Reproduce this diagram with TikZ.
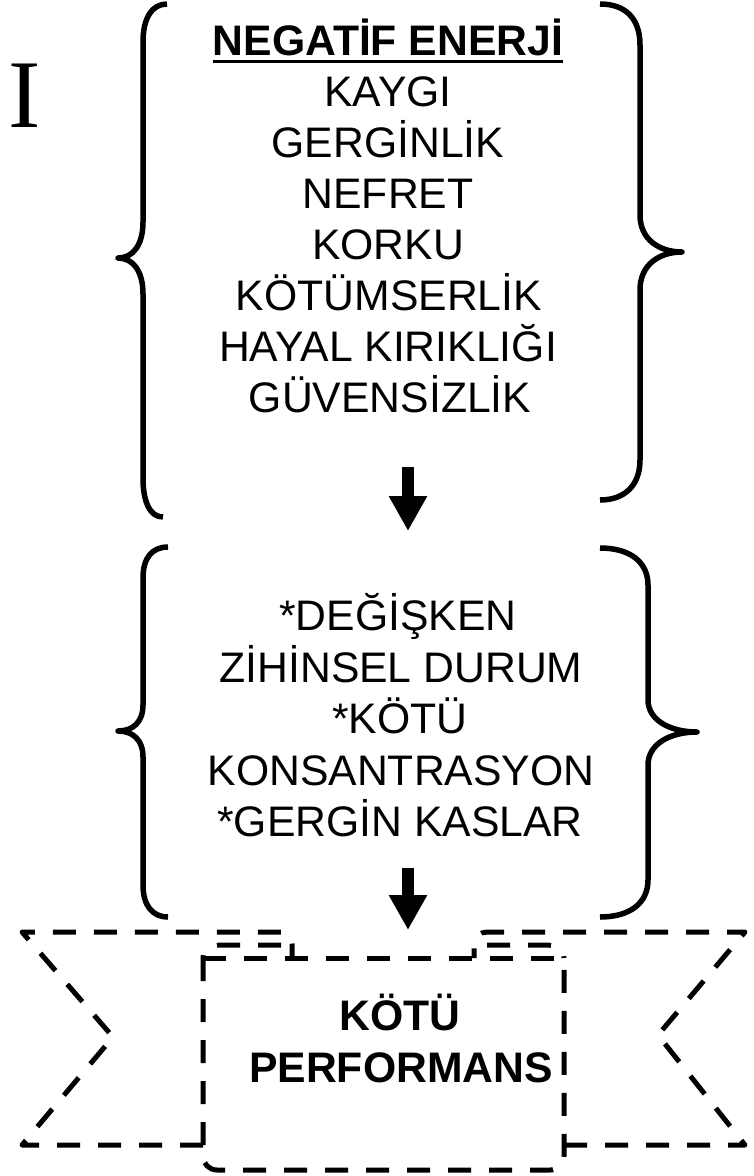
\documentclass[tikz,border=0pt]{standalone}
\usepackage{fontspec}
\setmainfont{Liberation Sans}
\newfontfamily\serifI{Liberation Serif}
\usetikzlibrary{arrows.meta}
\begin{document}
\begin{tikzpicture}[x=1pt,y=-1pt,
  txt/.style={font=\fontsize{42.7}{50}\selectfont, inner sep=0pt, anchor=base},
  btxt/.style={font=\fontsize{42.7}{50}\selectfont\bfseries, inner sep=0pt, anchor=base},
  brace/.style={line width=5.5pt, line cap=butt, line join=round},
  rib/.style={line width=5pt, dash pattern=on 23pt off 18pt, line cap=butt, line join=round},
  blockarrow/.style={line width=12pt, -{Triangle[width=36pt,length=35pt]}}]
\useasboundingbox (0,0) rectangle (753,1176);

% title fragment
\node[anchor=base west, inner sep=0pt, font=\serifI\fontsize{97}{97}\selectfont] (ttl) at (8,127) {I};

% top braces
\draw[brace] (167,4) .. controls (152,4) and (143,18) .. (143,42) -- (143,222)
  .. controls (143,245) and (133,258) .. (118,258)
  .. controls (133,258) and (143,271) .. (143,294) -- (143,478)
  .. controls (143,502) and (150,517) .. (163,517);
\draw[brace] (600,4) .. controls (625,4) and (640,18) .. (640,45) -- (640,215)
  .. controls (640,240) and (660,252) .. (682,252)
  .. controls (660,252) and (640,264) .. (640,290) -- (640,460)
  .. controls (640,485) and (625,500) .. (600,500);

% middle braces
\draw[brace] (168,547) .. controls (152,547) and (143,558) .. (143,578) -- (143,705)
  .. controls (143,722) and (133,731) .. (118,731)
  .. controls (133,731) and (143,740) .. (143,757) -- (143,885)
  .. controls (143,905) and (152,917) .. (168,917);
\draw[brace] (600,548) .. controls (630,548) and (648,562) .. (648,585) -- (648,700)
  .. controls (648,720) and (670,732) .. (697,732)
  .. controls (670,732) and (648,744) .. (648,765) -- (648,880)
  .. controls (648,903) and (630,917) .. (600,917);

% block 1 text
\node[btxt] (b1t) at (388,55) {NEGATİF ENERJİ};
\draw[line width=3pt] ([yshift=-6.5pt]b1t.base west) -- ([yshift=-6.5pt]b1t.base east);
\node[txt] (b1a) at (388,106) {KAYGI};
\node[txt] (b1b) at (388,157) {GERGİNLİK};
\node[txt] (b1c) at (388,208) {NEFRET};
\node[txt] (b1d) at (388,259) {KORKU};
\node[txt] (b1e) at (389,310) {KÖTÜMSERLİK};
\node[txt] (b1f) at (388,361) {HAYAL KIRIKLIĞI};
\node[txt] (b1g) at (390,412) {GÜVENSİZLİK};

% block 2 text
\node[txt] (b2a) at (398,630) {*DEĞİŞKEN};
\node[txt] (b2b) at (401,682) {ZİHİNSEL DURUM};
\node[txt] (b2c) at (400,733) {*KÖTÜ};
\node[txt] (b2d) at (401,785) {KONSANTRASYON};
\node[txt] (b2e) at (400,836) {*GERGİN KASLAR};

% arrows
\coordinate (a1s) at (408,467);
\coordinate (a1e) at (408,531);
\draw[blockarrow] (a1s) -- (a1e);
\coordinate (a2s) at (408,868);
\coordinate (a2e) at (408,930);
\draw[blockarrow] (a2s) -- (a2e);

% ribbon
\draw[rib] (203,1145) -- (22,1145) -- (113,1037) -- (22,932) -- (281,932)
  .. controls (288,932) and (292,937) .. (292,944) -- (292,958);
\draw[rib] (281,945) -- (222,945) .. controls (210,945) and (203,950) .. (203,958);
\draw[rib] (564,1145) -- (745,1145) -- (658,1035) -- (745,932) -- (487,932)
  .. controls (480,932) and (474,937) .. (474,944) -- (474,958);
\draw[rib] (487,945) -- (545,945) .. controls (557,945) and (564,950) .. (564,958);
\draw[rib, rounded corners=14pt] (203,958) -- (203,1170) -- (564,1170) -- (564,958);
\draw[rib] (203,958) -- (564,958);

\node[btxt] (r1) at (400,1030) {KÖTÜ};
\node[btxt] (r2) at (401,1082) {PERFORMANS};
\end{tikzpicture}
\end{document}
